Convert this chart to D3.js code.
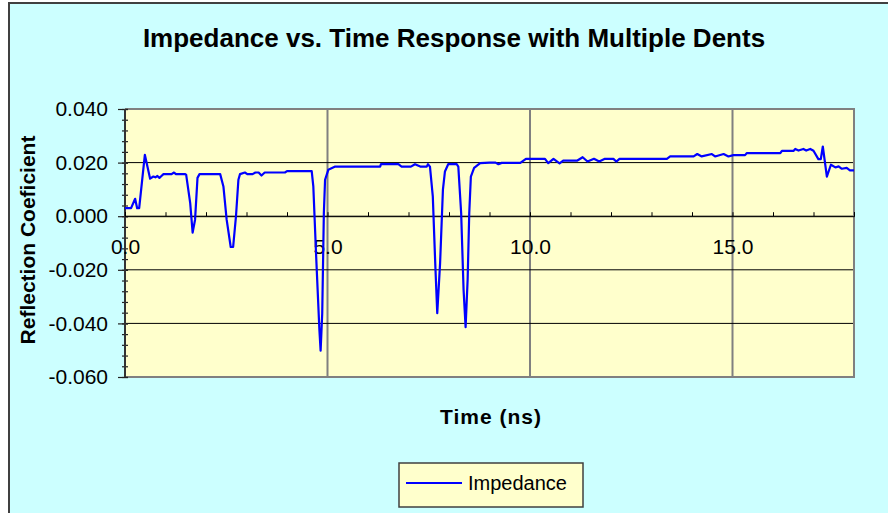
<!DOCTYPE html>
<head>
  <meta charset="utf-8">
  <script src="https://d3js.org/d3.v7.min.js"></script>
  <style>
    body { margin: 0; background: #fff; }
    * { font-family: "Liberation Sans", Arial, sans-serif; }
  </style>
</head>
<body>
  <div id="chart"></div>
  <script>
    // time axis (ns) and reflection coefficient
    var timeNs = [
      0, 0.15, 0.25, 0.30, 0.35, 0.49, 0.62, 0.70, 0.75, 0.80,
      0.85, 0.90, 0.95, 1.15, 1.21, 1.26, 1.48, 1.51, 1.61, 1.67,
      1.73, 1.79, 1.84, 2.35, 2.43, 2.51, 2.61, 2.67, 2.74, 2.80,
      2.84, 2.96, 3.02, 3.15, 3.22, 3.30, 3.37, 3.45, 3.95, 4.00,
      4.61, 4.65, 4.72, 4.80, 4.83, 4.87, 4.91, 4.94, 5.02, 5.19,
      6.30, 6.32, 6.75, 6.83, 7.06, 7.16, 7.29, 7.45, 7.48, 7.53,
      7.60, 7.66, 7.71, 7.78, 7.85, 7.90, 7.98, 8.19, 8.23, 8.30,
      8.36, 8.41, 8.46, 8.50, 8.54, 8.62, 8.77, 9.00, 9.15, 9.22,
      9.30, 9.76, 9.90, 10.37, 10.45, 10.58, 10.73, 10.82, 11.16, 11.30,
      11.42, 11.58, 11.71, 11.85, 12.06, 12.13, 12.21, 13.38, 13.46, 14.04,
      14.13, 14.24, 14.49, 14.57, 14.78, 14.90, 15.02, 15.31, 15.35, 16.18,
      16.22, 16.51, 16.55, 16.63, 16.75, 16.82, 16.92, 17.00, 17.12, 17.18,
      17.23, 17.33, 17.43, 17.54, 17.62, 17.70, 17.82, 17.90, 18.0
    ];
    var impedance = [
      0.003, 0.003, 0.0065, 0.003, 0.003, 0.0229, 0.014, 0.0148, 0.0145, 0.015,
      0.0143, 0.015, 0.0157, 0.0157, 0.0163, 0.0157, 0.0157, 0.0155, 0.0049, -0.0061,
      -0.0013, 0.0143, 0.0157, 0.0157, 0.0111, -0.0013, -0.0115, -0.0115, -0.0001, 0.0136,
      0.0157, 0.0163, 0.0157, 0.0157, 0.0163, 0.0163, 0.0152, 0.0163, 0.0163, 0.0168,
      0.0168, 0.0111, -0.015, -0.0424, -0.0502, -0.0362, 0.0012, 0.0136, 0.0173, 0.0185,
      0.0185, 0.0194, 0.0194, 0.0185, 0.0185, 0.0194, 0.0185, 0.0185, 0.0194, 0.0185,
      0.0074, -0.0175, -0.0362, -0.0175, 0.0099, 0.0167, 0.0194, 0.0194, 0.0185, 0.0012,
      -0.0275, -0.0414, -0.0237, 0.0012, 0.0148, 0.018, 0.0198, 0.0200, 0.0200, 0.0194,
      0.0199, 0.0199, 0.0214, 0.0214, 0.0198, 0.0214, 0.0197, 0.0207, 0.0207, 0.022,
      0.0204, 0.0214, 0.0204, 0.0214, 0.0214, 0.0204, 0.0214, 0.0214, 0.0223, 0.0223,
      0.0232, 0.0223, 0.0232, 0.0223, 0.0232, 0.0223, 0.0228, 0.0228, 0.0235, 0.0235,
      0.0244, 0.0244, 0.0251, 0.0245, 0.0251, 0.0245, 0.0251, 0.0244, 0.0213, 0.0213,
      0.026, 0.0148, 0.0192, 0.0182, 0.0186, 0.0177, 0.018, 0.0171, 0.0171
    ];
    var xLabelTicks = [0, 5, 10, 15];
    var yLabelTicks = [-0.06, -0.04, -0.02, 0, 0.02, 0.04];

    var width = 888, height = 513;
    var plot = {left: 125, right: 854, top: 109, bottom: 377};

    var svg = d3.select("#chart").append("svg")
      .attr("width", width)
      .attr("height", height);

    // chart frame
    svg.append("rect")
      .attr("x", 9).attr("y", 3)
      .attr("width", 900).attr("height", 530)
      .attr("fill", "#ccffff")
      .attr("stroke", "#404040")
      .attr("stroke-width", 2);

    var x = d3.scaleLinear().domain([0, 18]).range([plot.left, plot.right]);
    var y = d3.scaleLinear().domain([-0.06, 0.04]).range([plot.bottom, plot.top]);

    svg.append("rect")
      .attr("x", plot.left).attr("y", plot.top)
      .attr("width", plot.right - plot.left)
      .attr("height", plot.bottom - plot.top)
      .attr("fill", "#ffffcc");

    // vertical gridlines
    svg.append("g").selectAll("line")
      .data([5, 10, 15])
      .enter().append("line")
      .attr("x1", function(d) { return x(d) }).attr("x2", function(d) { return x(d) })
      .attr("y1", plot.top).attr("y2", plot.bottom)
      .attr("stroke", "#808080").attr("stroke-width", 2);

    // horizontal gridlines
    svg.append("g").selectAll("line")
      .data(yLabelTicks.slice(1, 5))
      .enter().append("line")
      .attr("x1", plot.left).attr("x2", plot.right)
      .attr("y1", function(d) { return y(d) }).attr("y2", function(d) { return y(d) })
      .attr("stroke", "#000").attr("stroke-width", 1);

    // plot border (grey) top/right/bottom
    svg.append("path")
      .attr("d", "M" + plot.left + "," + plot.top + "H" + plot.right + "V" + plot.bottom + "H" + plot.left)
      .attr("fill", "none").attr("stroke", "#808080").attr("stroke-width", 2);

    // y axis
    var yMinor = svg.append("g")
      .attr("transform", "translate(" + (plot.left + 3) + ",0)")
      .call(d3.axisLeft(y).tickValues(d3.range(-0.06, 0.0401, 0.004)).tickSize(6).tickFormat(""));
    yMinor.select(".domain").remove();
    yMinor.selectAll("line").attr("stroke", "#222").attr("stroke-width", 1.2);

    var yMajor = svg.append("g")
      .attr("transform", "translate(" + (plot.left + 3) + ",0)")
      .call(d3.axisLeft(y).tickValues(yLabelTicks).tickSize(10).tickPadding(10).tickFormat(d3.format(".3f")));
    yMajor.select(".domain").remove();
    yMajor.selectAll("line").attr("stroke", "#222").attr("stroke-width", 1.2);
    yMajor.selectAll("text").attr("font-size", 21).attr("fill", "#000")
      .attr("font-family", "Liberation Sans, Arial, sans-serif")
      .text(function(d) { return d3.format(".3f")(d).replace("−", "-") });

    svg.append("line")
      .attr("x1", plot.left).attr("x2", plot.left)
      .attr("y1", plot.top).attr("y2", plot.bottom)
      .attr("stroke", "#333").attr("stroke-width", 2);

    // x axis at zero
    var xTicks = svg.append("g")
      .attr("transform", "translate(0," + y(0) + ")")
      .call(d3.axisTop(x).tickValues(d3.range(0, 19, 1)).tickSize(4).tickFormat(""));
    xTicks.select(".domain").attr("stroke", "#000");
    xTicks.selectAll("line").attr("stroke", "#000");

    var xLabels = svg.append("g")
      .attr("transform", "translate(0," + y(0) + ")")
      .call(d3.axisBottom(x).tickValues(xLabelTicks).tickSize(0).tickPadding(23).tickFormat(d3.format(".1f")));
    xLabels.select(".domain").remove();
    xLabels.selectAll("text").attr("font-size", 21).attr("fill", "#000")
      .attr("font-family", "Liberation Sans, Arial, sans-serif");

    // trace
    var pts = timeNs.map(function(t, i) { return [t, impedance[i]] });
    var line = d3.line()
      .x(function(d) { return x(d[0]) })
      .y(function(d) { return y(d[1]) });

    svg.append("path")
      .datum(pts)
      .attr("d", line)
      .attr("fill", "none")
      .attr("stroke", "#0000ff")
      .attr("stroke-width", 2.2)
      .attr("stroke-linejoin", "round");

    // titles
    svg.append("text")
      .attr("x", 454).attr("y", 47)
      .attr("text-anchor", "middle")
      .attr("font-size", 26).attr("font-weight", "bold")
      .text("Impedance vs. Time Response with Multiple Dents");

    svg.append("text")
      .attr("transform", "translate(35,240) rotate(-90)")
      .attr("text-anchor", "middle")
      .attr("font-size", 21).attr("font-weight", "bold")
      .text("Reflection Coeficient");

    svg.append("text")
      .attr("x", 491).attr("y", 424)
      .attr("text-anchor", "middle")
      .attr("font-size", 21).attr("font-weight", "bold")
      .attr("letter-spacing", 1)
      .text("Time (ns)");

    // legend
    var legend = svg.append("g");
    legend.append("rect")
      .attr("x", 399).attr("y", 463)
      .attr("width", 184).attr("height", 44)
      .attr("fill", "#ffffcc").attr("stroke", "#404040").attr("stroke-width", 1.5);
    legend.append("line")
      .attr("x1", 406).attr("x2", 462)
      .attr("y1", 483).attr("y2", 483)
      .attr("stroke", "#0000ff").attr("stroke-width", 2.2);
    legend.append("text")
      .attr("x", 468).attr("y", 490)
      .attr("font-size", 20)
      .text("Impedance");
  </script>
</body>
